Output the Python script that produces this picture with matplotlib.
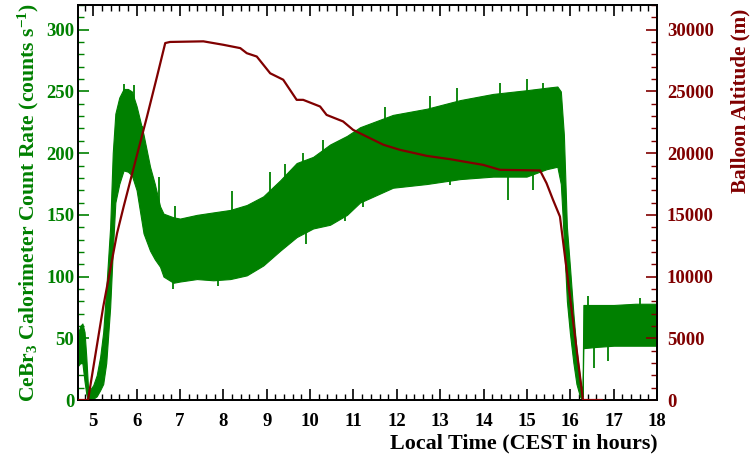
import matplotlib
matplotlib.use("Agg")
import matplotlib.pyplot as plt
import numpy as np
from matplotlib.ticker import MultipleLocator

# ---- data ----
# CeBr3 count rate: lower / upper envelope of the dense noisy trace (counts/s)
t_rate = [4.66, 4.70, 4.75, 4.80, 4.84, 4.88, 4.92, 5.00, 5.08, 5.16, 5.23,
          5.30, 5.39, 5.45, 5.51, 5.60, 5.70, 5.80, 5.89, 6.00, 6.16, 6.31,
          6.42, 6.54, 6.62, 6.85, 7.00, 7.39, 7.77, 8.16, 8.54, 8.92, 9.31,
          9.69, 10.07, 10.46, 10.85, 11.15, 11.91, 12.69, 13.46, 14.22,
          14.99, 15.45, 15.70, 15.78, 15.85, 15.92, 15.99, 16.07, 16.14,
          16.22, 16.28, 16.30, 16.60, 17.00, 17.50, 18.00]
rate_lo = [28, 30, 30, 15, 5, 0, 0, 1, 3, 8, 13,
           30, 75, 120, 160, 175, 186, 185, 182, 170, 135, 121,
           114, 108, 100, 95, 96, 98, 97, 98, 101, 109, 121,
           132, 139, 142, 150, 160, 172, 175, 179, 181,
           181, 187, 189, 175, 130, 80, 54, 30, 13,
           3, 0, 42, 43, 44, 44, 44]
rate_hi = [55, 60, 62, 55, 35, 10, 8, 12, 20, 35, 55,
           90, 140, 200, 232, 245, 252, 252, 250, 238, 215, 189,
           175, 157, 151, 148, 147, 150, 152, 154, 158, 165, 178,
           192, 197, 207, 214, 221, 231, 236, 243, 248,
           251, 253, 254, 250, 215, 140, 108, 70, 41,
           18, 3, 77, 77, 77, 78, 78]

# isolated spikes sticking out of the band (time, value)
spike_up_t = [5.72, 5.95, 6.12, 6.52, 6.89, 8.20, 9.08, 9.42, 9.84, 10.30,
              11.73, 12.76, 13.38, 14.38, 15.00, 15.36, 16.40, 17.60]
spike_up_v = [256, 255, 222, 181, 157, 169, 185, 191, 200, 211,
              237, 246, 253, 257, 260, 257, 84, 83]
spike_dn_t = [6.85, 7.88, 9.91, 10.80, 11.23, 13.23, 14.57, 15.14, 16.55,
              16.87]
spike_dn_v = [90, 92, 126, 145, 156, 174, 162, 170, 26, 32]

# Balloon altitude (m)
t_alt = [4.66, 4.88, 5.23, 5.55, 5.70, 6.00, 6.24, 6.47, 6.66, 6.77, 7.54,
         8.00, 8.39, 8.54, 8.77, 9.08, 9.38, 9.69, 9.84, 10.23, 10.38,
         10.76, 10.99, 11.30, 11.69, 12.07, 12.69, 13.23, 13.99, 14.38,
         15.30, 15.45, 15.60, 15.76, 16.29, 16.72]
alt = [0, 0, 7540, 13520, 15650, 19730, 22970, 26200, 28920, 29010, 29060,
       28780, 28510, 28100, 27830, 26470, 25950, 24320, 24320, 23780, 23100,
       22570, 21890, 21350, 20680, 20270, 19780, 19510, 19050, 18650,
       18600, 17570, 16220, 14860, 0, 0]

xticks = list(range(5, 19))

GREEN = "#008000"
RED = "#800000"
FONT = "Liberation Serif"

plt.rcParams['font.family'] = [FONT, 'DejaVu Serif']
plt.rcParams['font.weight'] = 'bold'
plt.rcParams['mathtext.fontset'] = 'custom'
plt.rcParams['mathtext.rm'] = FONT + ':bold'
plt.rcParams['mathtext.it'] = FONT + ':bold'
plt.rcParams['mathtext.bf'] = FONT + ':bold'
plt.rcParams['mathtext.default'] = 'bf'

fig = plt.figure(figsize=(7.51, 4.59), dpi=100)
ax = fig.add_axes([0.1045, 0.1285, 0.7705, 0.8605])
ax2 = ax.twinx()

ax.fill_between(t_rate, rate_lo, rate_hi, color=GREEN, linewidth=0.8,
                edgecolor=GREEN, zorder=2)
base_up = np.interp(spike_up_t, t_rate, rate_hi) - 5
base_dn = np.interp(spike_dn_t, t_rate, rate_lo) + 5
ax.vlines(spike_up_t, base_up, spike_up_v, color=GREEN, linewidth=1.3, zorder=2)
ax.vlines(spike_dn_t, spike_dn_v, base_dn, color=GREEN, linewidth=1.3, zorder=2)
ax2.plot(t_alt, alt, color=RED, linewidth=1.6, zorder=3)

ax.set_xlim(4.66, 18.0)
ax.set_ylim(0, 320)
ax2.set_ylim(0, 32000)

ax.set_xticks(xticks)
ax.xaxis.set_minor_locator(MultipleLocator(0.2))
ax.yaxis.set_major_locator(MultipleLocator(50))
ax.yaxis.set_minor_locator(MultipleLocator(10))
ax2.yaxis.set_major_locator(MultipleLocator(5000))
ax2.yaxis.set_minor_locator(MultipleLocator(1000))

ax.tick_params(axis='x', which='both', direction='in', top=True, bottom=True,
               labelsize=13.5, colors='black', pad=9)
ax.tick_params(axis='x', which='major', length=8, width=1.2)
ax.tick_params(axis='x', which='minor', length=4, width=1.0)
ax.tick_params(axis='y', which='both', direction='in', left=True, right=False,
               labelsize=13.5, colors=GREEN, pad=3)
ax.tick_params(axis='y', which='major', length=8, width=1.2)
ax.tick_params(axis='y', which='minor', length=4, width=1.0)
ax2.tick_params(axis='y', which='both', direction='in', right=True,
                labelsize=13.5, colors=RED, pad=7)
ax2.tick_params(axis='y', which='major', length=8, width=1.2)
ax2.tick_params(axis='y', which='minor', length=4, width=1.0)

for a in (ax, ax2):
    for s in a.spines.values():
        s.set_color('black')
        s.set_linewidth(1.3)
    for lab in a.get_xticklabels() + a.get_yticklabels():
        lab.set_fontweight('bold')

ax.set_xlabel("Local Time (CEST in hours)", loc='right', fontsize=15.8,
              fontweight='bold', labelpad=3)
ax.set_ylabel(r"CeBr$_{3}$ Calorimeter Count Rate (counts s$^{-1}$)",
              color=GREEN, fontsize=15.6, fontweight='bold', labelpad=4)
ax2.set_ylabel("Balloon Altitude (m)", color=RED, loc='top', fontsize=15.2,
               fontweight='bold', labelpad=12)
ax2.yaxis.label.set_y(0.99)

fig.savefig("out.png", dpi=100)
